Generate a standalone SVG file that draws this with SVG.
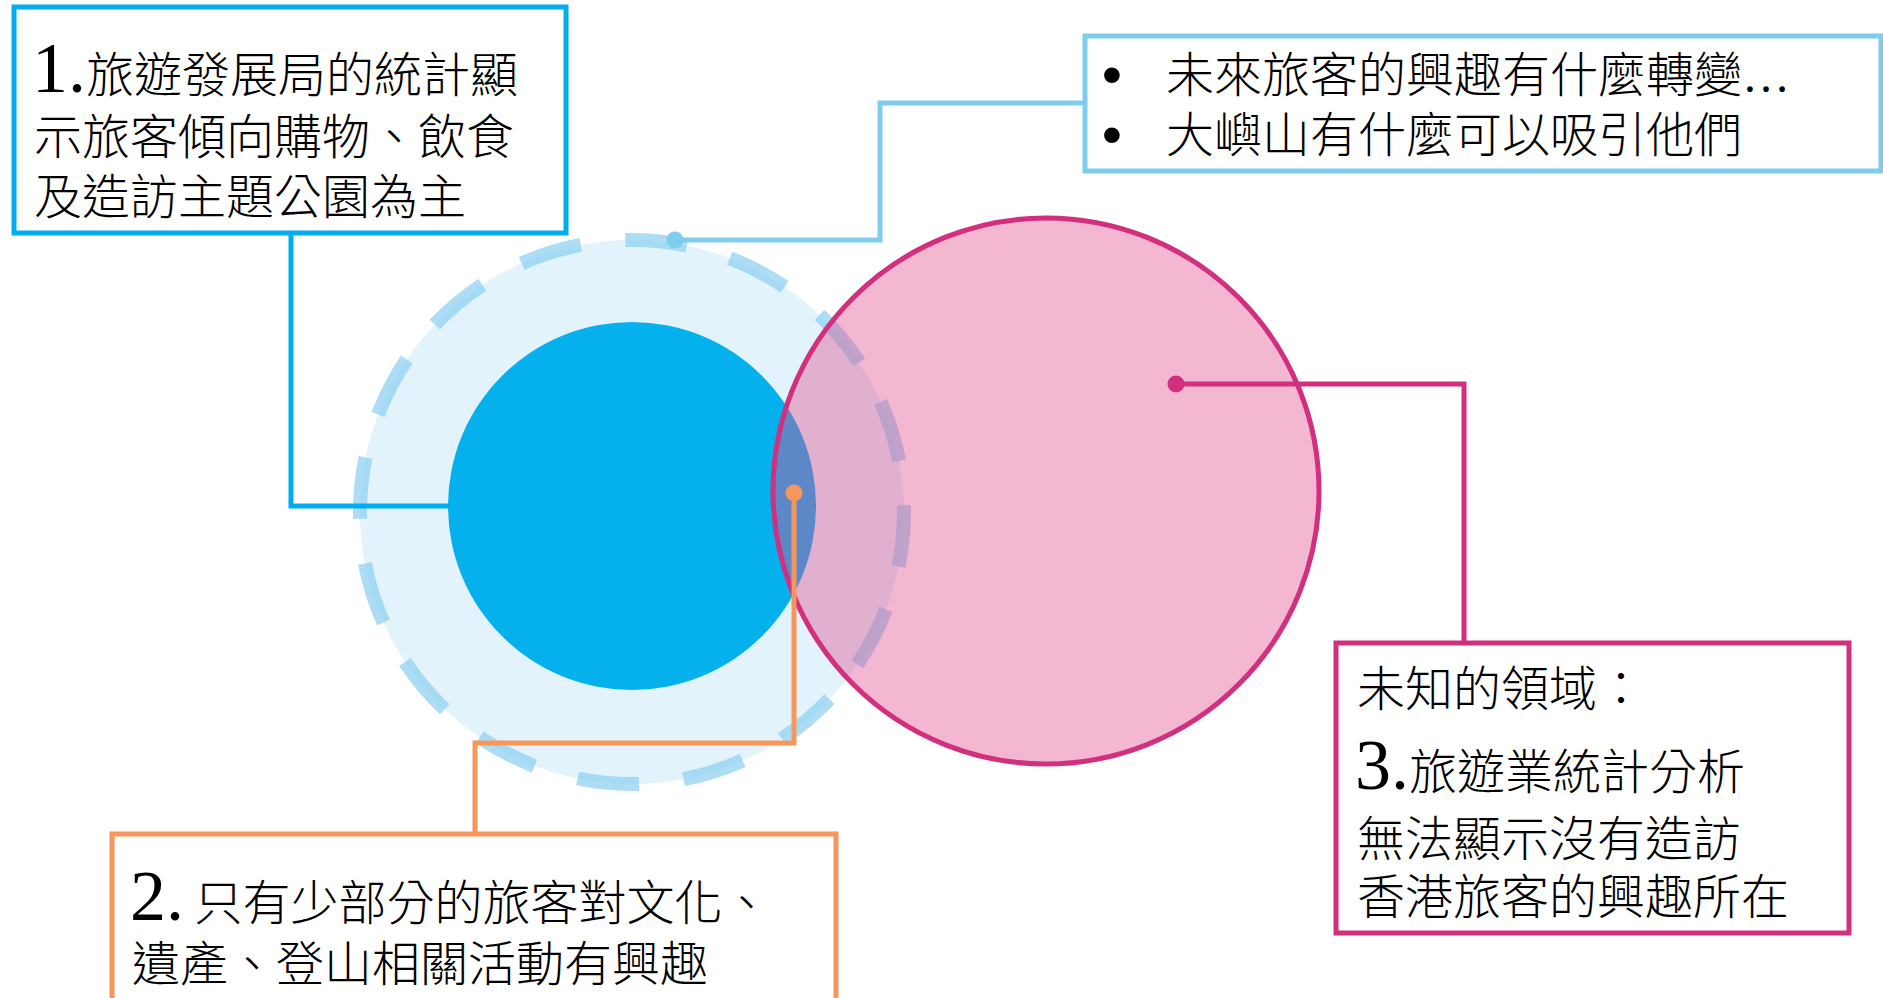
<svg xmlns="http://www.w3.org/2000/svg" width="1883" height="998" viewBox="0 0 1883 998">
<style>
.box{fill:#ffffff;stroke-width:5}
.cjk{font-family:"Noto Sans CJK TC","Noto Sans CJK SC",sans-serif;font-size:48px;font-weight:300;fill:#000}
.num{font-family:"Liberation Serif",serif;font-size:72px;font-weight:normal}
.lat{font-family:"Liberation Serif",serif}
.bul{font-family:"Liberation Sans",sans-serif;font-size:58px;fill:#000}
.conn{fill:none;stroke-width:5;stroke-linejoin:miter}
</style>
<rect width="1883" height="998" fill="#ffffff"/>
<g id="ring-known">
<circle cx="632" cy="512" r="272" fill="#E2F3FB"/>
<circle cx="632" cy="512" r="272" fill="none" stroke="#8ACFF0" stroke-opacity="0.7" stroke-width="14" stroke-dasharray="62 44.81" stroke-dashoffset="7.3"/>
</g>
<g id="circle-core">
<circle cx="632" cy="506" r="184" fill="#05B1ED"/>
</g>
<g id="circle-unknown">
<circle cx="1046" cy="491" r="273" fill="#E24A8E" fill-opacity="0.4" stroke="#D22F7E" stroke-width="5"/>
</g>
<g id="connectors">
<polyline class="conn" stroke="#00AEEF" points="291,233 291,506 450,506"/>
<polyline class="conn" stroke="#7FCDEE" points="675,240 880,240 880,103 1085,103"/>
<circle cx="675" cy="240" r="8.5" fill="#7FCDEE"/>
<polyline class="conn" stroke="#F7965B" points="794,493 794,743 475,743 475,834"/>
<circle cx="794" cy="493" r="8.5" fill="#F7965B"/>
<polyline class="conn" stroke="#D22F7E" points="1176,384 1464,384 1464,643"/>
<circle cx="1176" cy="384" r="8.5" fill="#D22F7E"/>
</g>
<g id="box1">
<rect class="box" x="14" y="7" width="552" height="226" stroke="#00AEEF"/>
<text class="cjk" x="32" y="92"><tspan class="num">1.</tspan>旅遊發展局的統計顯</text>
<text class="cjk" x="34" y="154">示旅客傾向購物、飲食</text>
<text class="cjk" x="34" y="214">及造訪主題公園為主</text>
</g>
<g id="box2">
<rect class="box" x="1085" y="36" width="796" height="135" stroke="#7FCDEE"/>
<text class="bul" x="1112" y="94" text-anchor="middle">•</text>
<text class="cjk" x="1166" y="92">未來旅客的興趣有什麼轉變<tspan class="lat">…</tspan></text>
<text class="bul" x="1112" y="154" text-anchor="middle">•</text>
<text class="cjk" x="1166" y="152">大嶼山有什麼可以吸引他們</text>
</g>
<g id="box3">
<rect class="box" x="1336" y="643" width="513" height="290" stroke="#D22F7E"/>
<text class="cjk" x="1357" y="706">未知的領域：</text>
<text class="cjk" x="1355" y="789"><tspan class="num">3.</tspan>旅遊業統計分析</text>
<text class="cjk" x="1357" y="856">無法顯示沒有造訪</text>
<text class="cjk" x="1357" y="914">香港旅客的興趣所在</text>
</g>
<g id="box4">
<rect class="box" x="112" y="834" width="724" height="200" stroke="#F7965B"/>
<text class="cjk" x="130" y="920"><tspan class="num">2.</tspan> 只有少部分的旅客對文化、</text>
<text class="cjk" x="132" y="981">遺產、登山相關活動有興趣</text>
</g>
</svg>
